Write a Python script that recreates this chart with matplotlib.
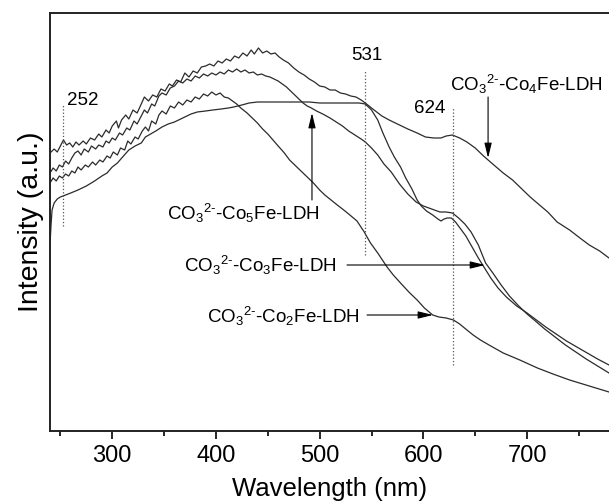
import matplotlib
matplotlib.use('Agg')
import matplotlib.pyplot as plt
from matplotlib.ticker import MultipleLocator, NullLocator

plt.rcParams['font.family'] = ['Liberation Sans', 'DejaVu Sans']
plt.rcParams['mathtext.fontset'] = 'custom'
plt.rcParams['mathtext.rm'] = 'Liberation Sans'
plt.rcParams['mathtext.it'] = 'Liberation Sans'

# ---- data (intensity in arbitrary units) ----
co4_wl = [240, 244, 247, 250, 253, 256, 259, 262, 265, 268, 272, 275, 279, 283, 287, 290,
          294, 297, 300, 304, 306, 309, 313, 316, 320, 324, 328, 331, 335, 339, 343, 347,
          351, 355, 358, 362, 366, 370, 374, 378, 382, 386, 390, 394, 398, 402, 406, 410,
          414, 418, 422, 426, 430, 434, 437, 441, 445, 449, 453, 457, 461, 465, 470, 475,
          480, 485, 490, 495, 500, 505, 510, 515, 520, 525, 530, 535, 540, 544, 550, 555,
          560, 567, 575, 585, 594, 602, 610, 617, 622, 628, 635, 642, 650, 658, 668, 677,
          686, 695, 703, 712, 720, 729, 741, 751, 760, 770, 779]
co4_int = [278, 282, 279, 285, 291, 286, 288, 284, 289, 286, 290, 287, 293, 291, 297, 294,
           301, 298, 305, 310, 303, 311, 316, 312, 321, 318, 327, 334, 330, 336, 334, 342,
           340, 347, 345, 351, 349, 358, 354, 360, 358, 364, 365, 367, 365, 370, 368, 372,
           370, 375, 373, 378, 375, 381, 377, 383, 378, 380, 377, 378, 374, 371, 368, 363,
           359, 356, 352, 349, 345, 344, 341, 341, 338, 337, 335, 334, 331, 328, 323, 319,
           315, 311, 307, 302, 298, 294, 293, 293, 295, 296, 293, 289, 283, 275, 266, 258,
           251, 242, 234, 226, 219, 209, 201, 193, 186, 180, 173]

co3_wl = [240, 243, 246, 249, 252, 255, 258, 261, 264, 267, 270, 273, 277, 280, 284, 287,
          291, 294, 297, 300, 303, 307, 310, 314, 317, 321, 324, 328, 331, 334, 338, 341,
          345, 348, 352, 356, 360, 364, 368, 372, 376, 380, 384, 388, 392, 396, 400, 404,
          408, 412, 416, 420, 424, 428, 432, 436, 440, 444, 448, 452, 456, 460, 464, 468,
          472, 476, 480, 484, 488, 492, 497, 503, 510, 516, 522, 528, 534, 540, 544, 550,
          556, 562, 569, 577, 585, 593, 600, 608, 616, 622, 628, 634, 640, 646, 653, 660,
          667, 675, 683, 692, 700, 708, 717, 727, 737, 747, 757, 768, 779]
co3_int = [258, 263, 260, 266, 264, 270, 267, 273, 278, 280, 276, 282, 279, 285, 282, 286,
           284, 290, 288, 293, 291, 298, 296, 303, 301, 310, 307, 315, 321, 318, 327, 325,
           335, 338, 336, 343, 345, 350, 348, 352, 350, 355, 353, 357, 355, 358, 356, 359,
           357, 361, 359, 362, 359, 361, 358, 359, 356, 357, 355, 354, 352, 350, 347, 344,
           340, 336, 332, 328, 325, 323, 320, 317, 313, 309, 305, 300, 296, 292, 289, 283,
           276, 267, 259, 247, 237, 229, 225, 222, 219, 219, 218, 213, 207, 199, 186, 168,
           158, 146, 135, 125, 117, 110, 102, 94, 86, 79, 72, 65, 58]

co2_wl = [240, 243, 246, 249, 252, 255, 258, 261, 264, 267, 270, 274, 277, 281, 284, 288,
          291, 295, 298, 301, 305, 308, 312, 315, 318, 322, 325, 329, 332, 335, 338, 342,
          345, 348, 352, 356, 360, 364, 368, 372, 376, 380, 384, 388, 392, 396, 400, 404,
          408, 412, 416, 420, 424, 430, 436, 440, 445, 450, 455, 460, 466, 471, 477, 483,
          488, 494, 500, 505, 511, 517, 522, 528, 536, 543, 549, 556, 565, 571, 578, 586,
          594, 601, 609, 615, 622, 629, 635, 642, 648, 655, 665, 677, 693, 710, 725, 741,
          760, 779]
co2_int = [248, 253, 250, 255, 253, 257, 255, 260, 258, 264, 261, 266, 264, 269, 266, 271,
           269, 275, 273, 279, 276, 283, 281, 290, 287, 294, 292, 300, 304, 300, 310, 307,
           316, 320, 317, 325, 323, 329, 326, 331, 329, 334, 332, 337, 335, 339, 336, 338,
           334, 333, 330, 327, 323, 318, 312, 308, 302, 297, 291, 285, 278, 271, 265, 259,
           254, 248, 241, 236, 231, 226, 222, 217, 210, 199, 188, 178, 164, 156, 148, 139,
           131, 123, 116, 114, 113, 111, 107, 101, 96, 91, 85, 78, 71, 63, 57, 51,
           45, 39]

co5_wl = [240, 241, 242, 244, 247, 250, 255, 260, 267, 275, 283, 290, 295, 300, 305, 310,
          316, 322, 328, 332, 337, 342, 348, 354, 360, 364, 370, 376, 382, 390, 397, 405,
          412, 417, 425, 432, 440, 450, 460, 470, 480, 490, 500, 510, 520, 530, 538, 544,
          550, 556, 561, 567, 572, 578, 583, 589, 594, 598, 603, 609, 614, 617, 620, 623,
          627, 631, 636, 641, 647, 653, 659, 665, 672, 680, 690, 700, 709, 718, 728, 738,
          748, 758, 768, 779]
co5_int = [186, 206, 221, 228, 232, 234, 236, 238, 241, 245, 250, 255, 258, 264, 268, 274,
           281, 285, 288, 294, 297, 300, 304, 307, 309, 311, 314, 317, 319, 320, 321, 322,
           323, 324, 326, 328, 329, 329, 329, 329, 329, 329, 328, 328, 328, 328, 328, 327,
           321, 311, 298, 284, 274, 264, 253, 242, 231, 225, 220, 216, 212, 210, 212, 213,
           213, 209, 202, 195, 184, 173, 163, 153, 143, 134, 125, 118, 111, 104, 97, 90,
           84, 78, 72, 66]

LINE_COLOR = '#2b2b2b'


def label(n):
    return r'CO$_3$$^{2\text{-}}$-Co$_%s$Fe-LDH' % n


fig = plt.figure(figsize=(6.09, 5.04), dpi=100)
ax = fig.add_axes([50 / 609, 73 / 504, 559 / 609, 418 / 504])

for wl, it in [(co4_wl, co4_int), (co3_wl, co3_int), (co2_wl, co2_int), (co5_wl, co5_int)]:
    ax.plot(wl, it, color=LINE_COLOR, lw=0.9)

# dotted marker lines
ax.plot([252.5, 252.5], [205, 326], ls=':', color='#555555', lw=0.9)
ax.plot([544, 544], [176, 361], ls=':', color='#555555', lw=0.9)
ax.plot([628.3, 628.3], [66, 323], ls=':', color='#555555', lw=0.9)

ax.text(256, 326, '252', fontsize=13.5, ha='left', va='baseline')
ax.text(545.7, 371, '531', fontsize=13.5, ha='center', va='baseline')
ax.text(606.4, 318, '624', fontsize=13.5, ha='center', va='baseline')

arrow = dict(arrowstyle='-|>,head_length=0.9,head_width=0.22', color='black',
             lw=0.8, shrinkA=0, shrinkB=0)

ax.text(699, 340, label('4'), fontsize=13.5, ha='center', va='baseline')
ax.annotate('', xy=(662.4, 273), xytext=(662.4, 334), arrowprops=arrow)

ax.text(426, 211, label('5'), fontsize=13.5, ha='center', va='baseline')
ax.annotate('', xy=(492.6, 318), xytext=(492.6, 231), arrowprops=arrow)

ax.text(442.5, 159, label('3'), fontsize=13.5, ha='center', va='baseline')
ax.annotate('', xy=(659.5, 166), xytext=(526.4, 166), arrowprops=arrow)

ax.text(464.7, 108, label('2'), fontsize=13.5, ha='center', va='baseline')
ax.annotate('', xy=(609.3, 116), xytext=(545.7, 116), arrowprops=arrow)

ax.set_xlim(240, 779)
ax.set_ylim(0, 418)
ax.xaxis.set_major_locator(MultipleLocator(100))
ax.xaxis.set_minor_locator(MultipleLocator(50))
ax.yaxis.set_major_locator(NullLocator())
ax.tick_params(axis='x', which='major', direction='out', length=6, width=1.2,
               labelsize=17, pad=4)
ax.tick_params(axis='x', which='minor', direction='out', length=3.5, width=1.2)
ax.spines['right'].set_visible(False)
for s in ['left', 'bottom', 'top']:
    ax.spines[s].set_linewidth(1.4)
    ax.spines[s].set_color('#222222')

ax.set_xlabel('Wavelength (nm)', fontsize=18.5, labelpad=7)
ax.set_ylabel('Intensity (a.u.)', fontsize=20.5, labelpad=4)

fig.savefig('out.png', dpi=100)
